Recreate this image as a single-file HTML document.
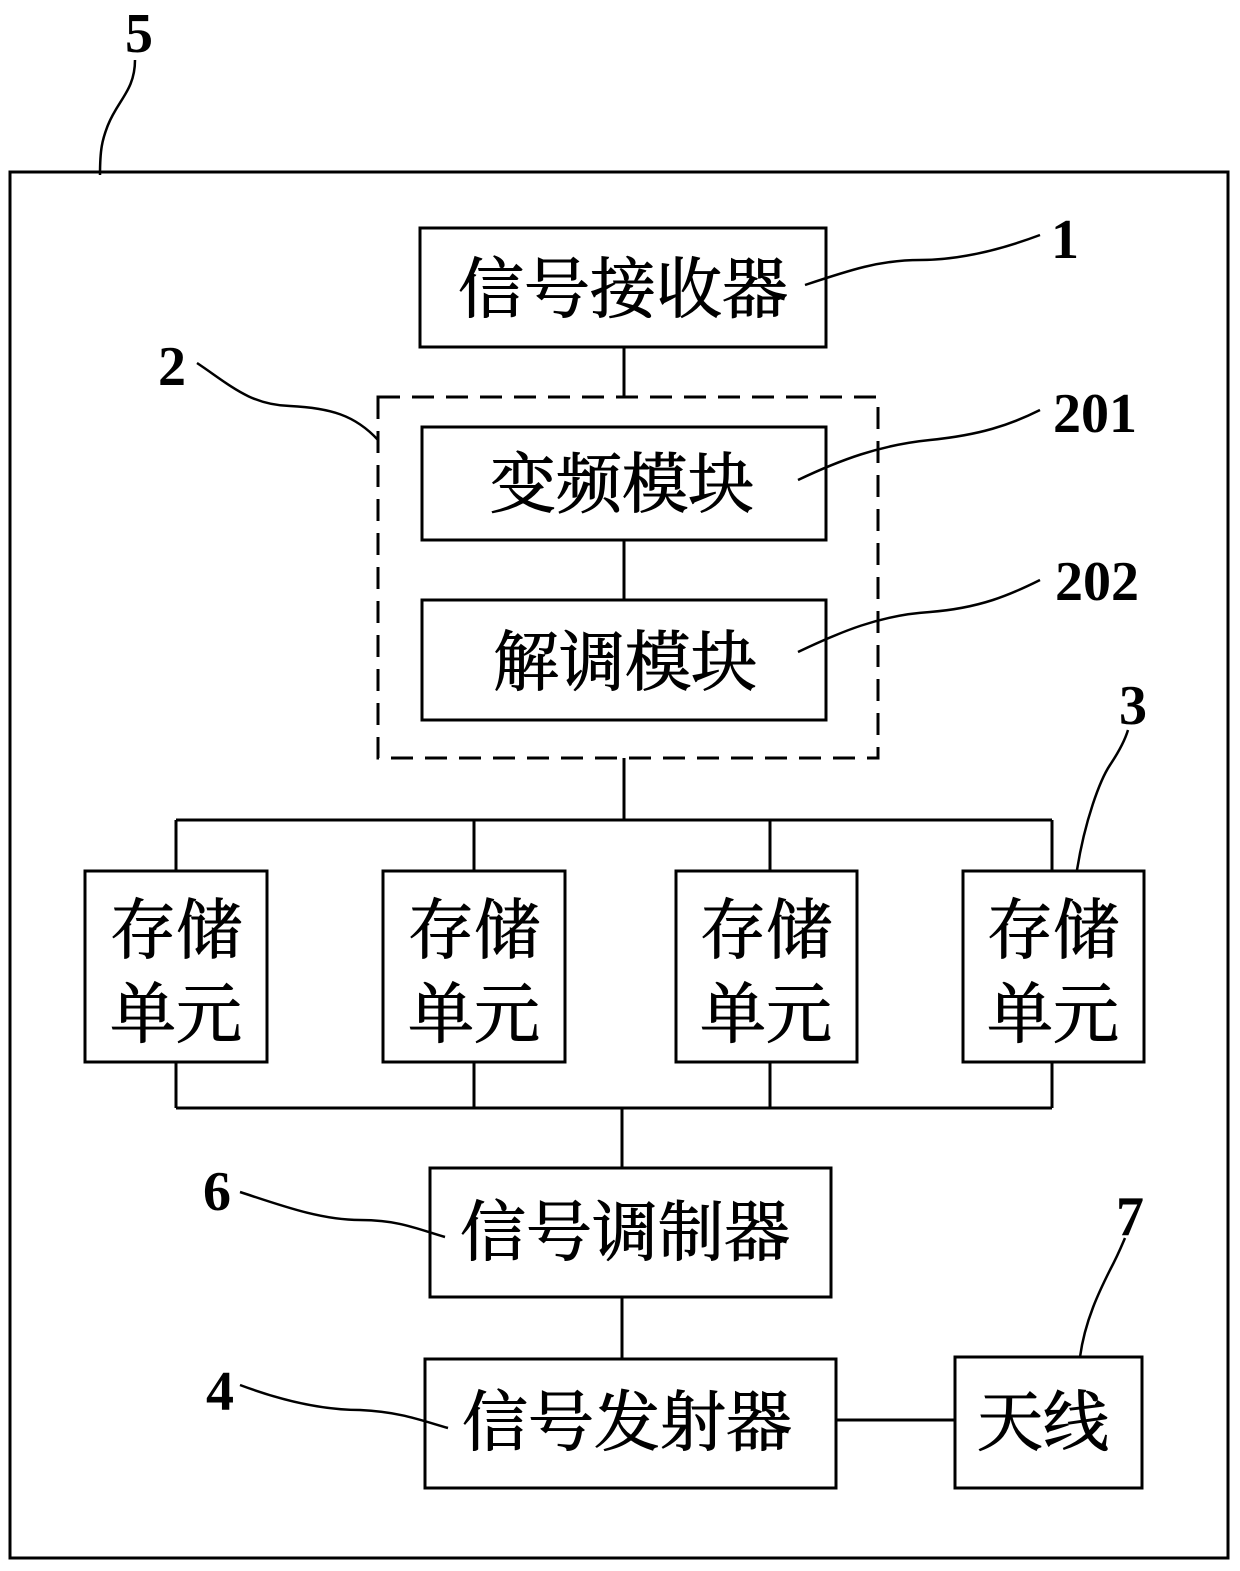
<!DOCTYPE html>
<html><head><meta charset="utf-8"><style>
body{margin:0;background:#fff}
svg text{font-family:"Liberation Serif","Noto Serif CJK SC",serif;fill:#000}
.c{font-family:"Liberation Sans","Noto Sans CJK SC",sans-serif;font-size:66px;stroke:#000;stroke-width:1}
.n{font-size:56px;font-weight:bold}
</style></head><body>
<svg width="1240" height="1566" viewBox="0 0 1240 1566" xmlns="http://www.w3.org/2000/svg">
<g fill="none" stroke="#000" stroke-width="3">
<rect x="10" y="172" width="1218" height="1386"/>
<rect x="420" y="228" width="406" height="119"/>
<rect x="378" y="397" width="500" height="361" stroke-dasharray="22,12"/>
<rect x="422" y="427" width="404" height="113"/>
<rect x="422" y="600" width="404" height="120"/>
<rect x="85" y="871" width="182" height="191"/>
<rect x="383" y="871" width="182" height="191"/>
<rect x="676" y="871" width="181" height="191"/>
<rect x="963" y="871" width="181" height="191"/>
<rect x="430" y="1168" width="401" height="129"/>
<rect x="425" y="1359" width="411" height="129"/>
<rect x="955" y="1357" width="187" height="131"/>
<path d="M624 347V397M624 540V600M624 758V820M176 820H1052M176 820V871M474 820V871M770 820V871M1052 820V871M176 1062V1108M474 1062V1108M770 1062V1108M1052 1062V1108M176 1108H1052M622 1108V1168M622 1297V1359M836 1420H955"/>
<g stroke-width="2.5">
<path d="M100 175C100 150 102 140 108 125C118 100 135 90 135 60"/>
<path d="M197 363C230 385 250 405 290 406C330 408 355 415 378 440"/>
<path d="M805 285C850 270 880 260 920 260C960 260 1000 250 1040 235"/>
<path d="M798 480C840 460 880 445 930 440C980 435 1010 425 1040 410"/>
<path d="M798 652C840 632 880 615 930 612C980 608 1010 595 1040 580"/>
<path d="M1077 870C1085 820 1100 780 1110 765C1120 750 1125 740 1128 730"/>
<path d="M240 1192C280 1205 320 1220 360 1220C400 1220 420 1230 445 1237"/>
<path d="M1080 1357C1085 1320 1100 1290 1110 1270C1118 1255 1122 1245 1125 1238"/>
<path d="M240 1385C280 1400 320 1410 360 1410C400 1412 420 1420 448 1428"/>
</g>
</g>
<g class="c" text-anchor="middle">
<text x="623" y="312">信号接收器</text>
<text x="622" y="507">变频模块</text>
<text x="625" y="685">解调模块</text>
<text x="176" y="953">存储</text><text x="176" y="1037">单元</text>
<text x="474" y="953">存储</text><text x="474" y="1037">单元</text>
<text x="766" y="953">存储</text><text x="766" y="1037">单元</text>
<text x="1053" y="953">存储</text><text x="1053" y="1037">单元</text>
<text x="625" y="1255">信号调制器</text>
<text x="627" y="1445">信号发射器</text>
<text x="1043" y="1445">天线</text>
</g>
<g class="n" text-anchor="middle">
<text x="139" y="52">5</text>
<text x="1065" y="258">1</text>
<text x="172" y="385">2</text>
<text x="1095" y="432">201</text>
<text x="1097" y="600">202</text>
<text x="1133" y="724">3</text>
<text x="217" y="1210">6</text>
<text x="1130" y="1235">7</text>
<text x="220" y="1410">4</text>
</g>
</svg>
</body></html>
